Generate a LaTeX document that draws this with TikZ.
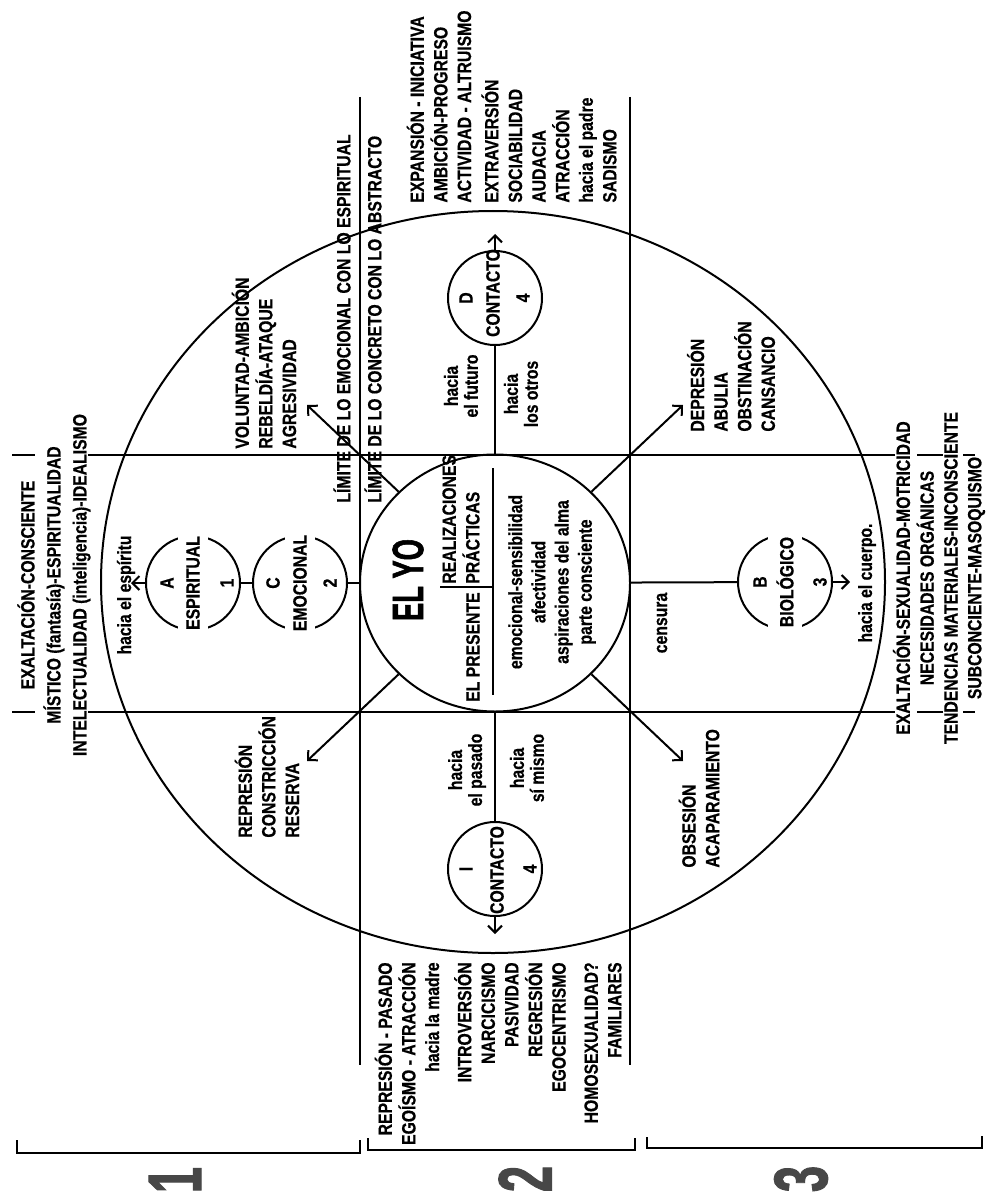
\documentclass[tikz,border=0pt]{standalone}
\usepackage{fontspec}
\setmainfont{Liberation Sans}
\newfontfamily\cond{Liberation Sans}[FakeStretch=0.82,BoldFeatures={FakeBold=0.6}]
\newfontfamily\condx{Liberation Sans}[FakeStretch=0.62,BoldFeatures={FakeBold=1.2}]
\usetikzlibrary{arrows.meta,shapes.geometric}
\begin{document}
\begin{tikzpicture}[x=0.5pt,y=-0.5pt,
  ln/.style={line width=1pt},
  arr/.style={ln,-{Straight Barb[length=3.5pt,width=7pt]}},
  ring/.style={draw,ln,circle,minimum size=47pt,inner sep=0pt},
  txt/.style={rotate=90,inner sep=0pt,font=\cond\bfseries\fontsize{9.6}{11.8}\selectfont},
  txtC/.style={txt,align=center},
  txtL/.style={txt,align=left,anchor=west},
  txtR/.style={txt,align=right,anchor=east},
  pair/.style={txt,align=center,font=\cond\bfseries\fontsize{9.6}{10}\selectfont},
  mask/.style={txt,fill=white,inner xsep=3pt,inner ysep=4pt},
  bignum/.style={rotate=90,inner sep=0pt,text=black!72,font=\condx\bfseries\fontsize{38}{38}\selectfont}]
\useasboundingbox (0,0) rectangle (985,1198);
\fill[white] (0,0) rectangle (985,1198);

% main shapes
\node[draw,ln,ellipse,minimum width=392pt,minimum height=371pt,inner sep=0pt] (big) at (493,582) {};
\node[draw,ln,ellipse,minimum width=135pt,minimum height=128.5pt,inner sep=0pt] (yo) at (495,583) {};

% grid lines
\coordinate (v1t) at (360,97);  \coordinate (v1b) at (360,1065);
\coordinate (v2t) at (630,97);  \coordinate (v2b) at (630,1065);
\coordinate (h1l) at (88,455);  \coordinate (h1r) at (895,455);
\coordinate (h2l) at (88,712);  \coordinate (h2r) at (895,712);
\draw[ln] (v1t) -- (v1b);
\draw[ln] (v2t) -- (v2b);
\draw[ln] (h1l) -- (h1r);
\draw[ln] (h2l) -- (h2r);
\foreach \yy in {455,712}{
  \draw[ln] (12,\yy) -- (35,\yy);
  \draw[ln] (917,\yy) -- (943,\yy);
  \draw[ln] (963,\yy) -- (975,\yy);
}

% small circles
\node[ring] (A) at (193,583) {};
\node[ring] (C) at (300,583) {};
\node[ring] (B) at (785,582) {};
\node[ring] (D) at (495,298) {};
\node[ring] (I) at (495,869) {};

% connectors
\draw[ln] (A) -- (C);
\draw[ln] (C) -- (yo);
\draw[ln] (yo) -- (B);
\draw[ln] (yo) -- (D);
\draw[ln] (yo) -- (I);
\coordinate (aA) at (131,583);
\coordinate (aD) at (495,234);
\coordinate (aI) at (495,934);
\coordinate (aB) at (850,582);
\draw[arr] (A) -- (aA);
\draw[arr] (D) -- (aD);
\draw[arr] (I) -- (aI);
\draw[arr] (B) -- (aB);
\coordinate (eUL) at (307,405);
\coordinate (eUR) at (683,405);
\coordinate (eLL) at (307,761);
\coordinate (eLR) at (683,761);
\draw[arr] (yo) -- (eUL);
\draw[arr] (yo) -- (eUR);
\draw[arr] (yo) -- (eLL);
\draw[arr] (yo) -- (eLR);

% inner division of EL YO
\coordinate (dl1) at (493,468); \coordinate (dl2) at (493,695);
\coordinate (bar1) at (440,587); \coordinate (bar2) at (493,587);
\draw[ln] (dl1) -- (dl2);
\draw[ln] (bar1) -- (bar2);

% circle texts
\node[txt] (tA) at (167,583) {A};
\node[mask] (tEsp) at (193,583) {ESPIRITUAL};
\node[txt] (t1) at (227,583) {1};
\node[txt] (tC) at (273,583) {C};
\node[mask] (tEmo) at (300,583) {EMOCIONAL};
\node[txt] (t2) at (330,583) {2};
\node[txt] (tB) at (760,582) {B};
\node[mask] (tBio) at (785,582) {BIOLÓGICO};
\node[txt] (t3) at (820,582) {3};
\node[txt] (tD) at (466,298) {D};
\node[txt] (tCD) at (493,293) {CONTACTO};
\node[txt] (t4D) at (523,298) {4};
\node[txt] (tI) at (466,869) {I};
\node[txt] (tCI) at (497,870) {CONTACTO};
\node[txt] (t4I) at (530,869) {4};

% EL YO
\node[rotate=90,inner sep=0pt,font=\condx\bfseries\fontsize{22}{22}\selectfont] (elyo) at (408,580) {EL YO};
\node[txtL] (real) at (461,584) {REALIZACIONES\\PRÁCTICAS};
\node[txtR] (pres) at (473,592) {EL PRESENTE};
\node[txtC,font=\cond\bfseries\fontsize{9.6}{11.6}\selectfont] (emo) at (552,582)
  {emocional-sensibilidad\\afectividad\\aspiraciones del alma\\parte consciente};

% directions
\node[txt] (hesp) at (126,595) {hacia el espíritu};
\node[pair] (hfut) at (461,386) {hacia\\el futuro};
\node[pair] (hotr) at (521,394) {hacia\\los otros};
\node[pair] (hpas) at (467,770) {hacia\\el pasado};
\node[pair] (hsi) at (527,768) {hacia\\sí mismo};
\node[txt] (hcue) at (867,583) {hacia el cuerpo.};
\node[txt] (cens) at (662,623) {censura};

% limits
\node[txtL] (lim1) at (342,503) {LÍMITE DE LO EMOCIONAL CON LO ESPIRITUAL};
\node[txtL] (lim2) at (373,503) {LÍMITE DE LO CONCRETO CON LO ABSTRACTO};

% arrow labels
\node[txtL] (vol) at (264,449) {VOLUNTAD-AMBICIÓN\\REBELDÍA-ATAQUE\\AGRESIVIDAD};
\node[txtL] (rep) at (267,838) {REPRESIÓN\\CONSTRICCIÓN\\RESERVA};
\node[txtL] (dep) at (731,432) {DEPRESIÓN\\ABULIA\\OBSTINACIÓN\\CANSANCIO};
\node[txtL] (obs) at (699,868) {OBSESIÓN\\ACAPARAMIENTO};

% outer labels
\node[txtC,font=\cond\bfseries\fontsize{9.6}{13}\selectfont] (top) at (54,585)
  {EXALTACIÓN-CONSCIENTE\\MÍSTICO (fantasía)-ESPIRITUALIDAD\\INTELECTUALIDAD (inteligencia)-IDEALISMO};
\node[txtC,font=\cond\bfseries\fontsize{9.6}{11.9}\selectfont] (bot) at (939,578)
  {EXALTACIÓN-SEXUALIDAD-MOTRICIDAD\\NECESIDADES ORGÁNICAS\\TENDENCIAS MATERIALES-INCONSCIENTE\\SUBCONCIENTE-MASOQUISMO};
\node[txtL] (rt1) at (439,203) {EXPANSIÓN - INICIATIVA\\AMBICIÓN-PROGRESO\\ACTIVIDAD - ALTRUISMO};
\node[txtL] (rt2) at (549,203) {EXTRAVERSIÓN\\SOCIABILIDAD\\AUDACIA\\ATRACCIÓN\\hacia el padre\\SADISMO};
\node[txtR] (lf1) at (407,962) {REPRESIÓN - PASADO\\EGOÍSMO - ATRACCIÓN\\hacia la madre};
\node[txtR] (lf2) at (510,962) {INTROVERSIÓN\\NARCICISMO\\PASIVIDAD\\REGRESIÓN\\EGOCENTRISMO};
\node[txtR] (lf3) at (603,962) {HOMOSEXUALIDAD?\\FAMILIARES};

% brackets
\draw[ln] (17,1140) -- (17,1153) -- (360,1153) -- (360,1140);
\draw[ln] (368,1138) -- (368,1150) -- (635,1150) -- (635,1138);
\draw[ln] (647,1137) -- (647,1148) -- (982,1148) -- (982,1136);
\node[bignum] (n1) at (175,1180) {1};
\node[bignum] (n2) at (525,1179) {2};
\node[bignum] (n3) at (801,1179) {3};
\end{tikzpicture}
\end{document}
